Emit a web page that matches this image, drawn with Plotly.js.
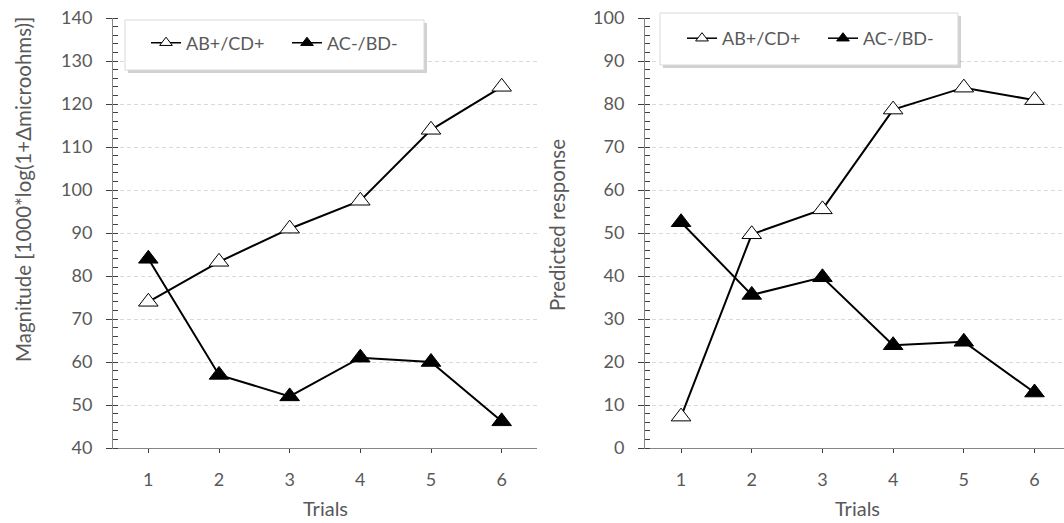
<!DOCTYPE html>
<html>
<head>
<meta charset="utf-8">
<script src="https://cdn.plot.ly/plotly-3.0.1.min.js"></script>
<style>html,body{margin:0;padding:0;background:#fff;}#chart{width:1064px;height:523px;}</style>
</head>
<body>
<div id="chart"></div>
<script>
// ---- data ----
const trials = [1, 2, 3, 4, 5, 6];
const seriesNames = ['AB+/CD+', 'AC-/BD-'];
const magnitudeAB = [74, 83.3, 91, 97.5, 114, 124];
const magnitudeAC = [84, 57, 52, 61, 60, 46.2];
const predictedAB = [7.3, 49.7, 55.5, 78.7, 83.8, 80.9];
const predictedAC = [52.5, 35.6, 39.7, 23.9, 24.7, 12.9];
const xTitle = 'Trials';
const yTitleLeft = 'Magnitude [1000*log(1+\u0394microohms)]';
const yTitleRight = 'Predicted response';

// ---- style ----
const FONT = 'Lato, "Open Sans", sans-serif';
const GREY = '#595959';
const W = 1064, H = 523;
const px = v => v / W;
const py = v => 1 - v / H;

function series(x, y, xa, ya, filled) {
  return {
    x: x, y: y, xaxis: xa, yaxis: ya, type: 'scatter', mode: 'lines+markers',
    showlegend: false, hoverinfo: 'skip',
    line: {color: '#000', width: 2},
    marker: {symbol: 'triangle-up', size: 17, color: filled ? '#000' : '#fff', line: {color: '#000', width: 1}}
  };
}
function legendEntry(name, xa, ya, legend, filled) {
  return {
    x: [null], y: [null], xaxis: xa, yaxis: ya, type: 'scatter', mode: 'lines+markers',
    name: name, legend: legend, showlegend: true, hoverinfo: 'skip',
    line: {color: '#000', width: 1.5},
    marker: {symbol: 'triangle-up', size: 11, color: filled ? '#000' : '#fff', line: {color: '#000', width: 1}}
  };
}

const data = [
  series(trials, magnitudeAB, 'x', 'y', false),
  series(trials, magnitudeAC, 'x', 'y', true),
  series(trials, predictedAB, 'x2', 'y2', false),
  series(trials, predictedAC, 'x2', 'y2', true),
  legendEntry(seriesNames[0], 'x', 'y3', 'legend', false),
  legendEntry(seriesNames[1], 'x', 'y3', 'legend', true),
  legendEntry(seriesNames[0], 'x2', 'y4', 'legend2', false),
  legendEntry(seriesNames[1], 'x2', 'y4', 'legend2', true)
];

const yDomain = [py(448), py(18)];
function xAxis(domain, range, anchor) {
  return {
    domain: domain, range: range, anchor: anchor, type: 'linear',
    tickmode: 'array', tickvals: trials, ticktext: trials.map(String),
    ticks: 'outside', ticklen: 4, tickcolor: '#404040', tickwidth: 1,
    showline: true, linecolor: '#868686', linewidth: 1,
    showgrid: false, zeroline: false, fixedrange: true,
    tickfont: {family: FONT, size: 18, color: GREY}, ticklabelstandoff: 11
  };
}
function yAxis(range, anchor) {
  return {
    domain: yDomain, range: range, anchor: anchor,
    dtick: 10, tick0: 0, ticks: 'outside', ticklen: 6, tickcolor: '#404040', tickwidth: 1,
    minor: {dtick: 2, ticks: 'inside', ticklen: 5, tickcolor: '#404040', tickwidth: 1, showgrid: false},
    showline: true, linecolor: '#868686', linewidth: 1,
    showgrid: true, gridcolor: '#d9d9d9', gridwidth: 1, griddash: '4px,3px',
    zeroline: false, fixedrange: true,
    tickfont: {family: FONT, size: 18, color: GREY}, ticklabelstandoff: 10
  };
}
function yOverlay(range, anchor, over) {
  return {
    domain: yDomain, range: range, anchor: anchor, overlaying: over,
    dtick: 10, tick0: 0, ticks: 'inside', ticklen: 5, tickcolor: '#404040', tickwidth: 1,
    showticklabels: false, showline: false, showgrid: false, zeroline: false, fixedrange: true
  };
}

function legendBox(x0, x1, y0, y1) {
  const o = 3;
  return [
    {type: 'rect', xref: 'paper', yref: 'paper', layer: 'above',
     x0: px(x0 + o), x1: px(x1 + o), y0: py(y1 + o), y1: py(y0 + o),
     fillcolor: 'rgba(0,0,0,0.18)', line: {width: 0}},
    {type: 'rect', xref: 'paper', yref: 'paper', layer: 'above',
     x0: px(x0), x1: px(x1), y0: py(y1), y1: py(y0),
     fillcolor: '#fff', line: {color: '#d9d9d9', width: 1}}
  ];
}

function legendCfg(x, y) {
  return {
    orientation: 'h', x: px(x), y: py(y), xanchor: 'left', yanchor: 'middle',
    bgcolor: 'rgba(0,0,0,0)', borderwidth: 0,
    font: {family: FONT, size: 18, color: GREY},
    entrywidth: 96, entrywidthmode: 'pixels', itemclick: false, itemdoubleclick: false
  };
}

const layout = {
  width: W, height: H,
  margin: {l: 0, r: 0, t: 0, b: 0, pad: 0},
  paper_bgcolor: '#fff', plot_bgcolor: '#fff',
  font: {family: FONT, color: GREY},
  xaxis: xAxis([px(113), px(537)], [0.5, 6.5], 'y'),
  yaxis: yAxis([40, 140], 'x'),
  yaxis3: yOverlay([40, 140], 'x', 'y'),
  xaxis2: xAxis([px(645), 1], [0.49, 6.417], 'y2'),
  yaxis2: yAxis([0, 100], 'x2'),
  yaxis4: yOverlay([0, 100], 'x2', 'y2'),
  legend: legendCfg(146, 43),
  legend2: legendCfg(682, 38.5),
  shapes: legendBox(125, 424, 20, 70).concat(legendBox(660, 958, 13, 65)),
  annotations: [
    {text: yTitleLeft, xref: 'paper', yref: 'paper', x: px(23), y: py(190), textangle: -90,
     showarrow: false, xanchor: 'center', yanchor: 'middle', font: {family: FONT, size: 20.5, color: GREY}},
    {text: yTitleRight, xref: 'paper', yref: 'paper', x: px(557), y: py(225), textangle: -90,
     showarrow: false, xanchor: 'center', yanchor: 'middle', font: {family: FONT, size: 20.5, color: GREY}},
    {text: xTitle, xref: 'paper', yref: 'paper', x: px(325.5), y: py(507.5),
     showarrow: false, xanchor: 'center', yanchor: 'middle', font: {family: FONT, size: 20, color: GREY}},
    {text: xTitle, xref: 'paper', yref: 'paper', x: px(857.5), y: py(507.5),
     showarrow: false, xanchor: 'center', yanchor: 'middle', font: {family: FONT, size: 20, color: GREY}}
  ]
};

Plotly.newPlot('chart', data, layout, {staticPlot: true, displayModeBar: false});
</script>
</body>
</html>
